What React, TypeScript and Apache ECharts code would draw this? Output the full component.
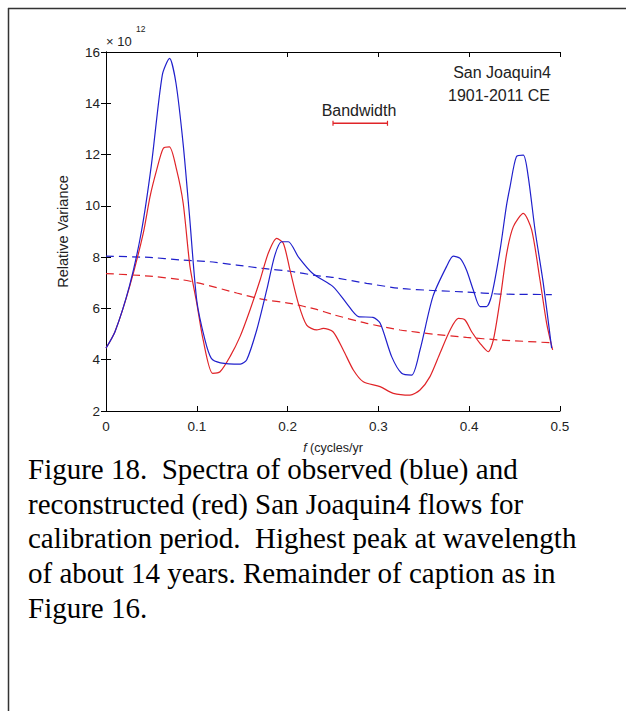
import React, { useEffect, useRef } from 'react';
import * as echarts from 'echarts';

// Observed spectrum (blue solid): [frequency, relative variance x 1e12]
const observed: [number, number][] = [
  [0, 4.45], [0.01, 5.1], [0.026, 6.9], [0.039, 9.0], [0.05, 11.6], [0.062, 15.1],
  [0.07, 15.75], [0.077, 14.8], [0.085, 12.4], [0.092, 9.6], [0.1, 6.3], [0.109, 4.77],
  [0.116, 4.05], [0.126, 3.88], [0.148, 3.83], [0.155, 4.0], [0.166, 5.16], [0.177, 6.72],
  [0.186, 8.08], [0.1935, 8.6], [0.2008, 8.6], [0.212, 8.0], [0.228, 7.35], [0.25, 6.85],
  [0.265, 6.2], [0.278, 5.68], [0.294, 5.65], [0.302, 5.42], [0.3146, 4.12], [0.3256, 3.47],
  [0.3366, 3.4], [0.3458, 4.38], [0.36, 6.46], [0.375, 7.63], [0.3825, 8.04], [0.39, 7.95],
  [0.397, 7.5], [0.4045, 6.72], [0.412, 6.07], [0.419, 6.07], [0.4248, 6.52], [0.434, 8.28],
  [0.441, 10.0], [0.445, 10.75], [0.452, 11.92], [0.4596, 11.98], [0.465, 11.14],
  [0.4725, 9.06], [0.4816, 6.98], [0.4908, 4.45],
];

// Reconstructed spectrum (red solid)
const reconstructed: [number, number][] = [
  [0, 4.45], [0.01, 5.1], [0.026, 6.85], [0.041, 8.93], [0.0485, 10.36], [0.0558, 11.4],
  [0.063, 12.24], [0.0698, 12.3], [0.0778, 11.4], [0.085, 10.1], [0.0925, 7.63], [0.1, 6.2],
  [0.107, 4.77], [0.1174, 3.47], [0.1256, 3.53], [0.1366, 4.12], [0.1476, 4.9], [0.1586, 5.94],
  [0.1696, 7.1], [0.1787, 8.15], [0.188, 8.73], [0.1953, 8.54], [0.2026, 7.5], [0.2118, 6.2],
  [0.221, 5.35], [0.232, 5.16], [0.2393, 5.22], [0.25, 5.09], [0.2613, 4.38], [0.2724, 3.6],
  [0.2834, 3.14], [0.3018, 2.95], [0.3164, 2.69], [0.3348, 2.62], [0.3458, 2.82], [0.3568, 3.34],
  [0.3678, 4.25], [0.379, 5.16], [0.388, 5.61], [0.3954, 5.55], [0.4027, 5.09], [0.4119, 4.64],
  [0.421, 4.31], [0.4266, 4.77], [0.434, 6.33], [0.4413, 8.15], [0.4486, 9.19], [0.4596, 9.71],
  [0.4688, 9.06], [0.478, 7.1], [0.4853, 5.42], [0.4919, 4.38],
];

// Null-continuum lines (dashed)
const observedNull: [number, number][] = [
  [0, 8.04], [0.048, 7.99], [0.0815, 7.89], [0.1145, 7.82], [0.144, 7.69], [0.173, 7.56],
  [0.2026, 7.45], [0.232, 7.28], [0.25, 7.21], [0.287, 6.98], [0.324, 6.78], [0.36, 6.7],
  [0.397, 6.64], [0.434, 6.56], [0.491, 6.54],
];
const reconstructedNull: [number, number][] = [
  [0, 7.36], [0.048, 7.26], [0.085, 7.11], [0.107, 6.95], [0.144, 6.6], [0.173, 6.35],
  [0.2026, 6.2], [0.232, 5.96], [0.25, 5.76], [0.287, 5.42], [0.324, 5.16], [0.36, 5.0],
  [0.397, 4.87], [0.434, 4.77], [0.491, 4.66],
];

// Bandwidth bar
const bandwidthX = [0.25, 0.31];
const bandwidthY = 13.22;

const captionLines = [
  'Figure 18.  Spectra of observed (blue) and',
  'reconstructed (red) San Joaquin4 flows for',
  'calibration period.  Highest peak at wavelength',
  'of about 14 years. Remainder of caption as in',
  'Figure 16.',
];

const BLUE = '#2020cc';
const RED = '#e02428';
const SANS = '"Liberation Sans", Arial, Helvetica, sans-serif';
const SERIF = '"Liberation Serif", "Times New Roman", serif';

export default function App() {
  const ref = useRef<HTMLDivElement>(null);
  useEffect(() => {
    const chart = echarts.init(ref.current!, null, { renderer: 'svg' });
    const axisCommon = {
      type: 'value' as const,
      axisLine: { show: true, lineStyle: { color: '#000', width: 1 } },
      axisTick: { show: true, inside: true, length: 5, lineStyle: { color: '#000' } },
      splitLine: { show: false },
    };
    chart.setOption({
      animation: false,
      backgroundColor: '#fff',
      grid: { left: 106, top: 52, width: 454, height: 359, containLabel: false },
      xAxis: [
        {
          ...axisCommon,
          min: 0, max: 0.5, interval: 0.1,
          position: 'bottom',
          axisLabel: { color: '#222', fontSize: 13.5, fontFamily: SANS, margin: 8 },
          name: '{i|f} (cycles/yr',
          nameLocation: 'middle',
          nameGap: 30,
          nameTextStyle: {
            color: '#222', fontSize: 12.5, fontFamily: SANS,
            rich: { i: { fontStyle: 'italic', fontSize: 12.5, fontFamily: SANS, color: '#222' } },
          },
        },
        {
          ...axisCommon,
          min: 0, max: 0.5, interval: 0.1,
          position: 'top',
          axisLabel: { show: false },
        },
      ],
      yAxis: [
        {
          ...axisCommon,
          min: 2, max: 16, interval: 2,
          position: 'left',
          axisLabel: { color: '#222', fontSize: 13.5, fontFamily: SANS, margin: 6 },
          name: 'Relative Variance',
          nameLocation: 'middle',
          nameGap: 36,
          nameTextStyle: { color: '#222', fontSize: 14.5, fontFamily: SANS },
        },
        {
          ...axisCommon,
          min: 2, max: 16, interval: 2,
          position: 'right',
          axisLabel: { show: false },
        },
      ],
      series: [
        {
          type: 'line', data: observedNull, showSymbol: false, symbol: 'none', smooth: 0.2,
          lineStyle: { color: BLUE, width: 1.2, type: [8, 5] }, z: 2,
        },
        {
          type: 'line', data: reconstructedNull, showSymbol: false, symbol: 'none', smooth: 0.2,
          lineStyle: { color: RED, width: 1.2, type: [8, 5] }, z: 2,
        },
        {
          type: 'line', data: reconstructed, showSymbol: false, symbol: 'none', smooth: 0.25,
          lineStyle: { color: RED, width: 1.2 }, z: 3,
        },
        {
          type: 'line', data: observed, showSymbol: false, symbol: 'none', smooth: 0.25,
          lineStyle: { color: BLUE, width: 1.2 }, z: 4,
        },
        {
          type: 'line',
          data: bandwidthX.map((x) => [x, bandwidthY]),
          symbol: 'rect', symbolSize: [1.2, 5], showSymbol: true,
          itemStyle: { color: RED },
          lineStyle: { color: RED, width: 1.5 }, z: 5,
        },
      ],
      graphic: [
        { type: 'line', shape: { x1: 8, y1: 8.5, x2: 626, y2: 8.5 }, style: { stroke: '#333', lineWidth: 1.5 } },
        { type: 'line', shape: { x1: 8.5, y1: 8, x2: 8.5, y2: 711 }, style: { stroke: '#333', lineWidth: 1.5 } },
        {
          type: 'text', left: 106, top: 35,
          style: { text: '× 10', fontSize: 13, fontFamily: SANS, fill: '#222' },
        },
        {
          type: 'text', left: 136, top: 24,
          style: { text: '12', fontSize: 8.5, fontFamily: SANS, fill: '#222' },
        },
        {
          type: 'text', x: 551, y: 72,
          style: { text: 'San Joaquin4', fontSize: 16, fontFamily: SANS, fill: '#222', align: 'right', verticalAlign: 'middle' },
        },
        {
          type: 'text', x: 550, y: 95,
          style: { text: '1901-2011 CE', fontSize: 16, fontFamily: SANS, fill: '#222', align: 'right', verticalAlign: 'middle' },
        },
        {
          type: 'text', x: 359, y: 110,
          style: { text: 'Bandwidth', fontSize: 16, fontFamily: SANS, fill: '#222', align: 'center', verticalAlign: 'middle' },
        },
        ...captionLines.map((line, i) => ({
          type: 'text',
          x: 28,
          y: 469 + i * 34.7,
          style: { text: line, fontSize: 29, fontFamily: SERIF, fill: '#000', align: 'left', verticalAlign: 'middle' },
        })),
      ],
    });
    return () => chart.dispose();
  }, []);
  return (
    <div
      ref={ref}
      style={{ position: 'absolute', left: 0, top: 0, width: 626, height: 711, background: '#fff' }}
    />
  );
}
